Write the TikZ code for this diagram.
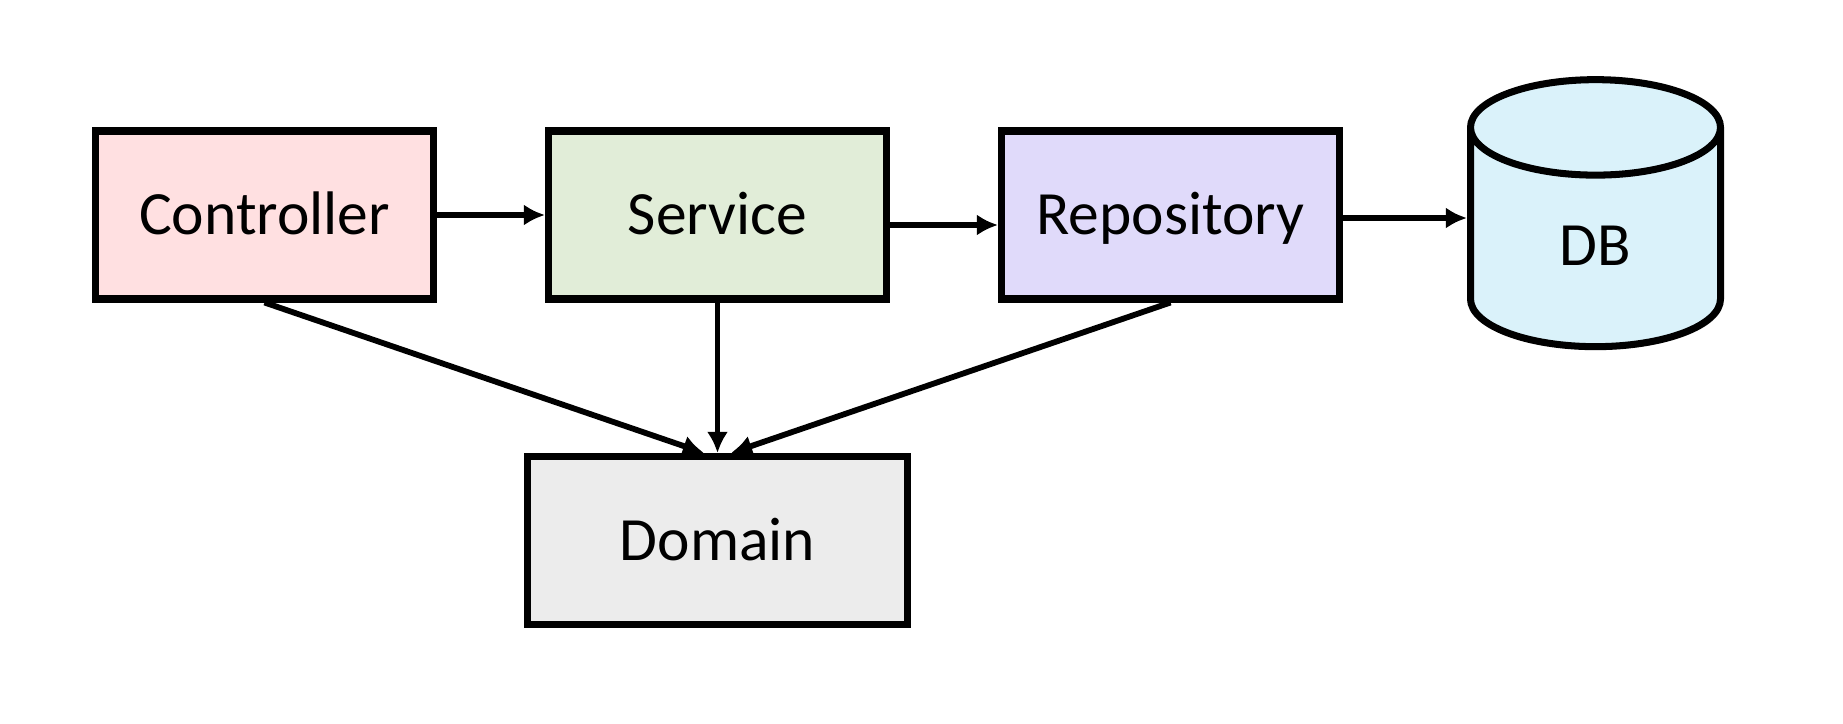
\documentclass[tikz,border=0pt]{standalone}
\usepackage{fontspec}
\setmainfont{Carlito}
\usetikzlibrary{shapes.geometric,arrows.meta,shadows}
\definecolor{ctrlpink}{RGB}{255,224,225}
\definecolor{servgreen}{RGB}{225,237,216}
\definecolor{repoviolet}{RGB}{224,218,250}
\definecolor{dbblue}{RGB}{218,242,250}
\definecolor{domgray}{RGB}{236,236,236}
\tikzstyle{line} = [draw, line width=3.3pt, -{Latex[length=12pt,width=12pt]}]
\tikzstyle{layer} = [rectangle, minimum width=6.76cm, minimum height=3.36cm, text centered, draw=black, line width=4pt, text height=22.5pt, text depth=0pt, drop shadow={shadow xshift=0.05cm, shadow yshift=-0.06cm, opacity=0.25}]
\tikzstyle{store} = [cylinder, shape border rotate=90, aspect=1.15, minimum width=5cm, minimum height=5.34cm, draw=black, fill=dbblue, line width=4pt, text height=22.5pt, text depth=0pt, drop shadow={shadow xshift=0.05cm, shadow yshift=-0.06cm, opacity=0.25}]

\begin{document}
\begin{tikzpicture}[node distance = 9.06cm, auto, font=\fontsize{35}{42}\selectfont]
				\useasboundingbox (0,0) rectangle (36.86,-14.46);
				% Place nodes
				\node [layer, fill=ctrlpink] (ctrl) at (5.29,-4.30) {Controller};
				\node [layer, fill=servgreen, right of=ctrl] (serv) {Service};
				\node [layer, fill=repoviolet, right of=serv] (repo) {Repository};
				\node [store, node distance=8.5cm, right of=repo, yshift=-0.62cm] (db) {DB};
				\node [layer, fill=domgray, minimum width=7.6cm, node distance=6.51cm, below of=serv] (dom) {Domain};
				% Draw edges
				\path [line] (ctrl) -- (serv);
				\path [line] ([yshift=-0.2cm]serv.east) -- ([yshift=-0.2cm]repo.west);
				\path [line] ([yshift=-0.06cm]repo.east) -- ([yshift=-0.06cm]repo.east -| db.west);
				\path [line] (ctrl.south) -- ([xshift=-0.27cm]dom.north);
				\path [line] (serv) -- (dom);
				\path [line] (repo.south) -- ([xshift=0.27cm]dom.north);
\end{tikzpicture}
\end{document}
